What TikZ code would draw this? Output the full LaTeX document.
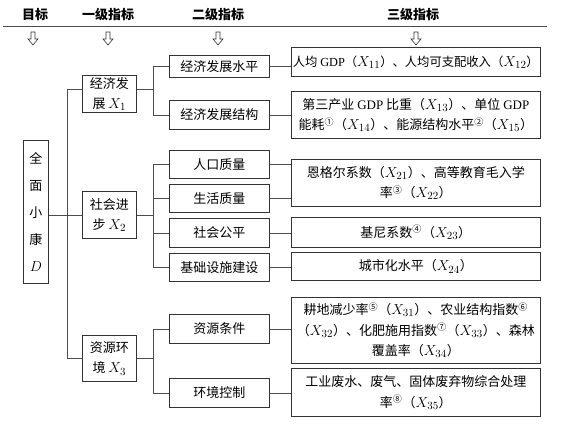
\documentclass[tikz,border=0pt]{standalone}
\usepackage{fontspec}
\setmainfont{Noto Sans CJK SC}
\newfontfamily\lat{Liberation Serif}
\newcommand\Xv[1]{{\fontsize{15}{15}\selectfont$X_{#1}$}}
\begin{document}
\begin{tikzpicture}[x=1pt,y=-1pt]
\tikzset{
 bx/.style={draw=black!80, line width=0.7pt, inner sep=0pt, anchor=north west, align=center, font=\fontsize{13}{20.5}\selectfont},
 ln/.style={draw=black!70, line width=0.6pt},
 hd/.style={font=\bfseries\fontsize{13}{15}\selectfont, inner sep=0pt},
 harrow/.pic={\draw[black!80, line width=0.6pt] (-2,0)--(2,0)--(2,7)--(5,7)--(0,13)--(-5,7)--(-2,7)--cycle;}
}
\useasboundingbox (0,0) rectangle (570,424);
% header
\node[hd] (h0) at (35,15) {目标};
\node[hd] (h1) at (108,15) {一级指标};
\node[hd] (h2) at (218,15) {二级指标};
\node[hd] (h3) at (413,15) {三级指标};
\draw[ln] (3,26) -- (547,26);
\pic at (33,32) {harrow};
\pic at (108,32) {harrow};
\pic at (218,32) {harrow};
\pic at (416,32) {harrow};
% goal
\node[bx, minimum width=25pt, minimum height=143pt, font=\fontsize{13}{27}\selectfont] (D) at (23,140) {全\\面\\小\\康\\{\fontsize{15}{15}\selectfont$D$}};
% level 1
\node[bx, minimum width=54pt, minimum height=37pt] (X1) at (82,75) {经济发\\展 \Xv{1}};
\node[bx, minimum width=54pt, minimum height=47pt] (X2) at (82,191) {社会进\\步 \Xv{2}};
\node[bx, minimum width=54pt, minimum height=46pt] (X3) at (82,335) {资源环\\境 \Xv{3}};
% level 2
\node[bx, minimum width=100pt, minimum height=22pt] (a1) at (169,55) {经济发展水平};
\node[bx, minimum width=100pt, minimum height=29pt] (a2) at (169,100) {经济发展结构};
\node[bx, minimum width=100pt, minimum height=28pt] (b1) at (169,150) {人口质量};
\node[bx, minimum width=100pt, minimum height=28pt] (b2) at (169,184) {生活质量};
\node[bx, minimum width=100pt, minimum height=29pt] (b3) at (169,218) {社会公平};
\node[bx, minimum width=100pt, minimum height=28pt] (b4) at (169,253) {基础设施建设};
\node[bx, minimum width=100pt, minimum height=29pt] (c1) at (169,314) {资源条件};
\node[bx, minimum width=100pt, minimum height=29pt] (c2) at (169,378) {环境控制};
% level 3
\node[bx, minimum width=249pt, minimum height=29pt, font=\fontsize{12.3}{20.5}\selectfont] (r1) at (291,47) {人均 {\lat GDP}（\Xv{11}）、人均可支配收入（\Xv{12}）};
\node[bx, minimum width=249pt, minimum height=47pt] (r2) at (291,91) {第三产业 {\lat GDP} 比重（\Xv{13}）、单位 {\lat GDP}\\能耗\textsuperscript{①}（\Xv{14}）、能源结构水平\textsuperscript{②}（\Xv{15}）};
\node[bx, minimum width=249pt, minimum height=47pt] (r3) at (291,159) {恩格尔系数（\Xv{21}）、高等教育毛入学\\率\textsuperscript{③}（\Xv{22}）};
\node[bx, minimum width=249pt, minimum height=30pt] (r4) at (291,217) {基尼系数\textsuperscript{④}（\Xv{23}）};
\node[bx, minimum width=249pt, minimum height=28pt] (r5) at (291,252) {城市化水平（\Xv{24}）};
\node[bx, minimum width=249pt, minimum height=66pt] (r6) at (291,297) {耕地减少率\textsuperscript{⑤}（\Xv{31}）、农业结构指数\textsuperscript{⑥}\\（\Xv{32}）、化肥施用指数\textsuperscript{⑦}（\Xv{33}）、森林\\覆盖率（\Xv{34}）};
\node[bx, minimum width=249pt, minimum height=48pt] (r7) at (291,368) {工业废水、废气、固体废弃物综合处理\\率\textsuperscript{⑧}（\Xv{35}）};
% connectors: goal -> level 1
\coordinate (s0) at (67,0);
\coordinate (s1) at (153,0);
\coordinate (x1p) at ([yshift=5pt]X1.west);
\coordinate (x1q) at ([yshift=5pt]X1.east);
\draw[ln] (x1p) -- (x1p -| s0) -- (X3.west -| s0) -- (X3.west);
\draw[ln] (D.east |- X2.west) -- (X2.west);
% level 1 -> level 2
\draw[ln] (x1q) -- (x1q -| s1);
\draw[ln] (a1.west) -- (a1.west -| s1) -- (a2.west -| s1) -- (a2.west);
\draw[ln] (X2.east) -- (X2.east -| s1);
\draw[ln] (b1.west) -- (b1.west -| s1) -- (b4.west -| s1) -- (b4.west);
\draw[ln] (b2.west) -- (b2.west -| s1);
\draw[ln] (b3.west) -- (b3.west -| s1);
\draw[ln] (X3.east) -- (X3.east -| s1);
\draw[ln] (c1.west) -- (c1.west -| s1) -- (c2.west -| s1) -- (c2.west);
% level 2 -> level 3
\draw[ln] (a1.east) -- (a1.east -| r1.west);
\draw[ln] (a2.east) -- (a2.east -| r2.west);
\draw[ln] (b1.east) -- (b1.east -| r3.west);
\draw[ln] (b2.east) -- (b2.east -| r3.west);
\draw[ln] (b3.east) -- (b3.east -| r4.west);
\draw[ln] (b4.east) -- (b4.east -| r5.west);
\draw[ln] (c1.east) -- (c1.east -| r6.west);
\draw[ln] (c2.east) -- (c2.east -| r7.west);
\end{tikzpicture}
\end{document}
